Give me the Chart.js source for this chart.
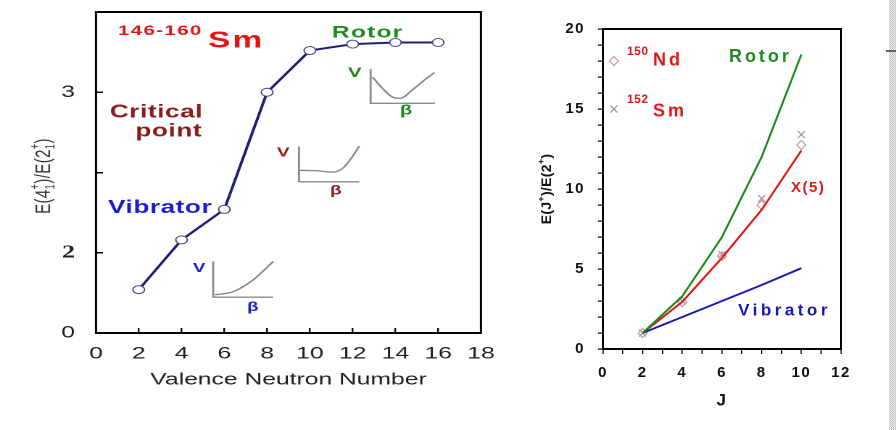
<!DOCTYPE html>
<html>
<head>
<meta charset="utf-8">
<script src="https://cdn.jsdelivr.net/npm/chart.js@4.4.1/dist/chart.umd.min.js"></script>
<style>
  html, body { margin: 0; padding: 0; background: #fff; }
  body { width: 896px; height: 430px; position: relative; overflow: hidden; }
  /* the left panel of the original slide is stretched sideways */
  #leftBox { position: absolute; left: 0; top: 0; width: 345px; height: 430px; transform: scaleX(1.45); transform-origin: 0 0; }
  #rightBox { position: absolute; left: 520px; top: 0; width: 376px; height: 430px; }
  #edge { position: absolute; left: 889px; top: 0; width: 7px; height: 430px;
          background: repeating-conic-gradient(#c4c4c4 0 25%, #ececec 0 50%) 0 0 / 2px 2px; }
  #edgeMark { position: absolute; left: 886px; top: 50px; width: 10px; height: 2px; background: #666; }
</style>
</head>
<body>
<div id="leftBox"><canvas id="chartLeft"></canvas></div>
<div id="rightBox"><canvas id="chartRight"></canvas></div>
<div id="edge"></div>
<div id="edgeMark"></div>
<script>
// ---- left panel: E(4+)/E(2+) along the Sm chain ----
const neutronNumbers = [2, 4, 6, 8, 10, 12, 14, 16];
const ratioR42 = [1.77, 2.08, 2.27, 3.00, 3.26, 3.30, 3.31, 3.31];
const leftYTickLabels = { 1.5: '0', 2: '2', 2.5: '', 3: '3', 3.5: '' };

// little V(beta) sketches inside the left panel (in axis units)
const rotorWellX = [12.93, 13.43, 13.82, 14.21, 14.83, 15.30, 15.82];
const rotorWellY = [3.094, 3.019, 2.973, 2.962, 3.019, 3.070, 3.123];
const rotorFrameX = [12.84, 12.84, 15.85];
const rotorFrameY = [3.144, 2.931, 2.931];
const criticalWellX = [9.54, 10.47, 11.09, 11.56, 11.95, 12.31];
const criticalWellY = [2.514, 2.509, 2.502, 2.529, 2.592, 2.664];
const criticalFrameX = [9.49, 9.49, 12.31];
const criticalFrameY = [2.661, 2.442, 2.442];
const vibratorWellX = [5.56, 6.42, 7.35, 8.29];
const vibratorWellY = [1.738, 1.758, 1.831, 1.946];
const vibratorFrameX = [5.48, 5.48, 8.29];
const vibratorFrameY = [1.946, 1.723, 1.723];

// ---- right panel: E(J+)/E(2+) vs J ----
const spinJ = [2, 4, 6, 8, 10];
const rotorRatio = [1, 3.3, 7.0, 12.0, 18.4];
const x5Ratio = [1, 2.95, 5.7, 8.7, 12.4];
const vibratorRatio = [1, 2, 3, 4, 5.05];
const nd150Ratio = [1, 2.93, 5.8, 9.0, 12.75];
const sm152Ratio = [1, 3.0, 5.9, 9.4, 13.4];
const keyJ = [0.55];
const keyNdY = [18];
const keySmY = [15];

const FAMILY = '"Liberation Sans", Arial, sans-serif';
const pts = (xs, ys) => xs.map((x, i) => ({ x: x, y: ys[i] }));

// text placed in axis units
function notesPlugin(items) {
    return {
        id: 'notes',
        afterDatasetsDraw(chart) {
            const ctx = chart.ctx;
            const sx = chart.scales.x, sy = chart.scales.y;
            items.forEach(function (t) {
                ctx.save();
                ctx.font = t.font;
                ctx.fillStyle = t.color;
                ctx.letterSpacing = (t.spacing || 0) + 'px';
                ctx.textAlign = t.align || 'left';
                ctx.textBaseline = 'alphabetic';
                ctx.fillText(t.text, sx.getPixelForValue(t.x), sy.getPixelForValue(t.y));
                ctx.restore();
            });
        }
    };
}

// axis title with stacked super/subscripts, rotated
function drawStackedTitle(ctx, parts, cx, cy, size, weight, color, spacing) {
    const big = weight + ' ' + size + 'px ' + FAMILY;
    const small = weight + ' ' + Math.round(size * 0.62) + 'px ' + FAMILY;
    ctx.save();
    ctx.letterSpacing = spacing + 'px';
    const widths = parts.map(function (p) {
        if (p.length === 1) { ctx.font = big; return ctx.measureText(p[0]).width; }
        ctx.font = small;
        return Math.max(ctx.measureText(p[0]).width, ctx.measureText(p[1]).width);
    });
    const total = widths.reduce((a, b) => a + b, 0);
    ctx.translate(cx, cy);
    ctx.rotate(-Math.PI / 2);
    ctx.fillStyle = color;
    ctx.textBaseline = 'alphabetic';
    let x = -total / 2;
    const base = size * 0.36;
    parts.forEach(function (p, i) {
        if (p.length === 1) {
            ctx.font = big;
            ctx.fillText(p[0], x, base);
        } else {
            ctx.font = small;
            ctx.fillText(p[0], x, base - size * 0.5);
            ctx.fillText(p[1], x, base + size * 0.2);
        }
        x += widths[i];
    });
    ctx.restore();
}

function framePlugin(opts) {
    return {
        id: 'frame',
        beforeDraw(chart) {
            chart.ctx.letterSpacing = (opts.tickSpacing || 0) + 'px';
        },
        beforeDatasetsDraw(chart) {
            const ctx = chart.ctx, a = chart.chartArea;
            ctx.save();
            ctx.strokeStyle = '#000';
            ctx.lineWidth = opts.lwH;
            ctx.beginPath();
            ctx.moveTo(a.left, a.top); ctx.lineTo(a.right, a.top);
            ctx.moveTo(a.left, a.bottom); ctx.lineTo(a.right, a.bottom);
            ctx.stroke();
            ctx.lineWidth = opts.lwV;
            ctx.beginPath();
            ctx.moveTo(a.left, a.top - opts.lwH / 2); ctx.lineTo(a.left, a.bottom + opts.lwH / 2);
            ctx.moveTo(a.right, a.top - opts.lwH / 2); ctx.lineTo(a.right, a.bottom + opts.lwH / 2);
            ctx.stroke();
            ctx.restore();
        },
        afterDraw(chart) {
            const t = opts.title;
            drawStackedTitle(chart.ctx, t.parts, t.x, t.y, t.size, t.weight, t.color, t.spacing);
        }
    };
}

// fixed axis box, no extra label padding pushed into the layout
function fixedSize(prop, size) {
    return function (s) {
        s[prop] = size;
        s.paddingTop = 0; s.paddingBottom = 0; s.paddingLeft = 0; s.paddingRight = 0;
    };
}

const navy = '#1e1e78';
const sketchGray = '#8a8a8a';
const sketch = (data) => ({
    data: data, borderColor: sketchGray, borderWidth: 1.4, pointRadius: 0,
    fill: false, cubicInterpolationMode: 'monotone'
});

new Chart(document.getElementById('chartLeft'), {
    type: 'line',
    data: {
        datasets: [
            sketch(pts(rotorFrameX, rotorFrameY)),
            sketch(pts(rotorWellX, rotorWellY)),
            sketch(pts(criticalFrameX, criticalFrameY)),
            sketch(pts(criticalWellX, criticalWellY)),
            sketch(pts(vibratorFrameX, vibratorFrameY)),
            sketch(pts(vibratorWellX, vibratorWellY)),
            {
                data: pts(neutronNumbers, ratioR42),
                borderColor: navy,
                borderWidth: 2,
                pointRadius: 4,
                pointBorderWidth: 1,
                pointBorderColor: '#4a4a90',
                pointBackgroundColor: '#fff',
                fill: false
            }
        ]
    },
    options: {
        responsive: true,
        maintainAspectRatio: false,
        devicePixelRatio: 2,
        animation: false,
        layout: { padding: { left: 0, right: 13.3, top: 12, bottom: 0 } },
        plugins: { legend: { display: false }, tooltip: { enabled: false } },
        scales: {
            x: {
                type: 'linear', min: 0, max: 18,
                border: { display: false },
                grid: { drawOnChartArea: false, tickLength: -5, color: '#000', lineWidth: 1.2 },
                ticks: { stepSize: 2, padding: 15.8, color: '#222', autoSkip: false, maxRotation: 0,
                         font: { family: FAMILY, size: 17 } },
                title: { display: true, text: 'Valence Neutron Number', color: '#222',
                         font: { family: FAMILY, size: 17 }, padding: { top: 0, bottom: 39.8 } },
                afterFit: fixedSize('height', 97)
            },
            y: {
                type: 'linear', min: 1.5, max: 3.5,
                border: { display: false },
                grid: { drawOnChartArea: false, tickLength: -4.8, color: '#000', lineWidth: 1.5 },
                ticks: {
                    stepSize: 0.5, padding: 19.3, color: '#222', autoSkip: false,
                    callback: function (v) { return leftYTickLabels[v] !== undefined ? leftYTickLabels[v] : ''; },
                    font: function (c) {
                        return c.tick && c.tick.value === 2
                            ? { family: '"Liberation Serif", serif', size: 18, weight: 'bold' }
                            : { family: FAMILY, size: 17 };
                    }
                },
                afterFit: fixedSize('width', 66.2)
            }
        }
    },
    plugins: [
        framePlugin({
            lwH: 2, lwV: 1.5,
            title: { parts: [['E(4'], ['+', '1'], [')/E(2'], ['+', '1'], [')']],
                     x: 29, y: 176, size: 15, weight: 'normal', color: '#333', spacing: 0.4 }
        }),
        notesPlugin([
            { text: '146-160', x: 1.03, y: 3.358, font: 'bold 14px ' + FAMILY, color: '#e41414', spacing: 1 },
            { text: 'Sm', x: 5.24, y: 3.279, font: 'bold 23px ' + FAMILY, color: '#e41414', spacing: 1.5 },
            { text: 'Rotor', x: 11.03, y: 3.342, font: 'bold 17px ' + FAMILY, color: '#1c8a1c', spacing: 0.8 },
            { text: 'Critical', x: 0.65, y: 2.842, font: 'bold 18px ' + FAMILY, color: '#8a1c1c', spacing: 0.4 },
            { text: 'point', x: 4.96, y: 2.723, font: 'bold 18px ' + FAMILY, color: '#8a1c1c', spacing: 0.4, align: 'right' },
            { text: 'Vibrator', x: 0.56, y: 2.248, font: 'bold 18px ' + FAMILY, color: '#1c1cd0', spacing: 0.4 },
            { text: 'V', x: 11.78, y: 3.094, font: 'bold 14px ' + FAMILY, color: '#1c8a1c' },
            { text: 'β', x: 14.21, y: 2.862, font: 'bold 14px ' + FAMILY, color: '#1c8a1c' },
            { text: 'V', x: 8.46, y: 2.60, font: 'bold 13px ' + FAMILY, color: '#8a1c1c' },
            { text: 'β', x: 10.94, y: 2.362, font: 'bold 13px ' + FAMILY, color: '#8a1c1c' },
            { text: 'V', x: 4.53, y: 1.881, font: 'bold 13px ' + FAMILY, color: '#1c1cd0' },
            { text: 'β', x: 7.06, y: 1.637, font: 'bold 13px ' + FAMILY, color: '#1c1cd0' }
        ])
    ]
});

const markNd = '#c99a9e';
const markSm = '#a88ca6';

new Chart(document.getElementById('chartRight'), {
    type: 'line',
    data: {
        datasets: [
            { data: pts(spinJ, rotorRatio), borderColor: '#1c8a1c', borderWidth: 2, pointRadius: 0, fill: false },
            { data: pts(spinJ, vibratorRatio), borderColor: '#1818b4', borderWidth: 2, pointRadius: 0, fill: false },
            { data: pts(spinJ, x5Ratio), borderColor: '#e01818', borderWidth: 2, pointRadius: 0, fill: false },
            { data: pts(spinJ, nd150Ratio), showLine: false, pointStyle: 'rectRot', pointRadius: 4.5,
              pointBorderWidth: 1.2, pointBorderColor: markNd, pointBackgroundColor: 'rgba(0,0,0,0)' },
            { data: pts(spinJ, sm152Ratio), showLine: false, pointStyle: 'crossRot', pointRadius: 5,
              pointBorderWidth: 1.2, pointBorderColor: markSm, pointBackgroundColor: 'rgba(0,0,0,0)' },
            { data: pts(keyJ, keyNdY), showLine: false, pointStyle: 'rectRot', pointRadius: 4.5,
              pointBorderWidth: 1.2, pointBorderColor: markNd, pointBackgroundColor: 'rgba(0,0,0,0)' },
            { data: pts(keyJ, keySmY), showLine: false, pointStyle: 'crossRot', pointRadius: 5,
              pointBorderWidth: 1.2, pointBorderColor: markSm, pointBackgroundColor: 'rgba(0,0,0,0)' }
        ]
    },
    options: {
        responsive: true,
        maintainAspectRatio: false,
        devicePixelRatio: 2,
        animation: false,
        layout: { padding: { left: 0, right: 55, top: 29, bottom: 0 } },
        plugins: { legend: { display: false }, tooltip: { enabled: false } },
        scales: {
            x: {
                type: 'linear', min: 0, max: 12,
                border: { display: false },
                grid: { drawOnChartArea: false, tickLength: 5, color: '#000', lineWidth: 1.2 },
                ticks: { stepSize: 1, padding: 10, color: '#111', autoSkip: false, maxRotation: 0,
                         font: { family: FAMILY, size: 15, weight: 'bold' },
                         callback: function (v) { return v % 2 === 0 ? v : ''; } },
                title: { display: true, text: 'J', color: '#111',
                         font: { family: FAMILY, size: 17, weight: 'bold' }, padding: { top: 0, bottom: 19 } },
                afterFit: fixedSize('height', 81)
            },
            y: {
                type: 'linear', min: 0, max: 20,
                border: { display: false },
                grid: { drawOnChartArea: false, tickLength: 5, color: '#000', lineWidth: 1.2 },
                ticks: { stepSize: 1, padding: 13, color: '#111', autoSkip: false,
                         font: { family: FAMILY, size: 15, weight: 'bold' },
                         callback: function (v) { return v % 5 === 0 ? v : ''; } },
                afterFit: fixedSize('width', 83)
            }
        }
    },
    plugins: [
        framePlugin({
            lwH: 2, lwV: 2, tickSpacing: 1.5,
            title: { parts: [['E(J'], ['+', ''], [')/E(2'], ['+', ''], [')']],
                     x: 26, y: 189, size: 14, weight: 'bold', color: '#111', spacing: 0.3 }
        }),
        notesPlugin([
            { text: '150', x: 1.21, y: 18.375, font: 'bold 12px ' + FAMILY, color: '#e01818', spacing: 0.5 },
            { text: 'Nd', x: 2.52, y: 17.71, font: 'bold 18px ' + FAMILY, color: '#e01818', spacing: 3 },
            { text: '152', x: 1.21, y: 15.375, font: 'bold 12px ' + FAMILY, color: '#e01818', spacing: 0.5 },
            { text: 'Sm', x: 2.52, y: 14.52, font: 'bold 18px ' + FAMILY, color: '#e01818', spacing: 3 },
            { text: 'Rotor', x: 6.35, y: 17.94, font: 'bold 18px ' + FAMILY, color: '#1c8a1c', spacing: 3 },
            { text: 'X(5)', x: 9.48, y: 9.81, font: 'bold 15px ' + FAMILY, color: '#e01818', spacing: 1.5 },
            { text: 'Vibrator', x: 6.81, y: 2.08, font: 'bold 17px ' + FAMILY, color: '#1818b4', spacing: 3.5 }
        ])
    ]
});
</script>
</body>
</html>
